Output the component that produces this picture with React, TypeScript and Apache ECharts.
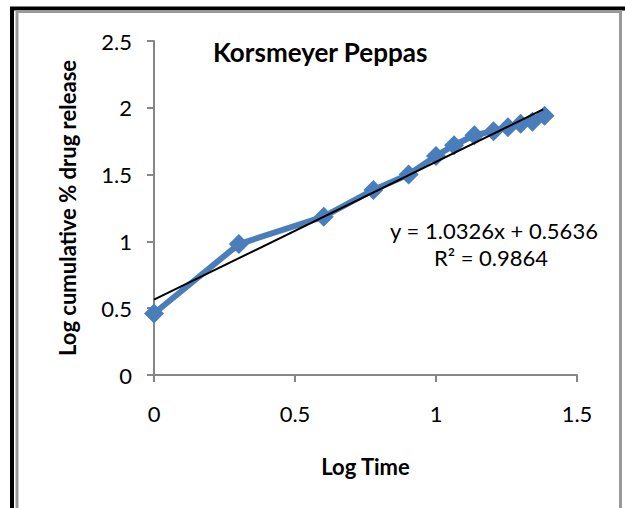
import React, { useEffect, useRef } from "react";
import * as echarts from "echarts";

const logTime = [0, 0.301, 0.602, 0.778, 0.903, 1.0, 1.064, 1.136, 1.204, 1.255, 1.3, 1.342, 1.385];
const logRelease = [0.46, 0.98, 1.185, 1.385, 1.5, 1.64, 1.72, 1.795, 1.825, 1.855, 1.88, 1.895, 1.94];
const trendSlope = 1.0326;
const trendIntercept = 0.5636;
const trendX = [0, 1.38];
const xTicks = [0, 0.5, 1, 1.5];
const yTicks = [0, 0.5, 1, 1.5, 2, 2.5];
const titleText = "Korsmeyer Peppas";
const eqLine1 = "y = 1.0326x + 0.5636";
const eqLine2 = "R² = 0.9864";

const FONT = "Lato, 'Open Sans', sans-serif";

export default function App() {
  const ref = useRef<HTMLDivElement>(null);
  useEffect(() => {
    if (!ref.current) return;
    const chart = echarts.init(ref.current, undefined, { renderer: "svg" });
    const points = logTime.map((x, i) => [x, logRelease[i]]);
    const trend = trendX.map((x) => [x, trendSlope * x + trendIntercept]);
    chart.setOption({
      animation: false,
      backgroundColor: "#fff",
      title: {
        text: titleText,
        left: 208,
        top: 34,
        textStyle: { fontFamily: FONT, fontWeight: "bold", fontSize: 26, color: "#000" },
      },
      grid: { left: 154, right: 48, top: 41, bottom: 133 },
      xAxis: {
        type: "value",
        min: 0,
        max: 1.5,
        interval: 0.5,
        name: "Log Time",
        nameLocation: "middle",
        nameGap: 80,
        nameTextStyle: { fontFamily: FONT, fontWeight: "bold", fontSize: 22, color: "#000" },
        axisLine: { show: true, lineStyle: { color: "#868686", width: 2 } },
        axisTick: { show: true, length: 7, lineStyle: { color: "#868686", width: 2 } },
        axisLabel: {
          fontFamily: FONT,
          fontSize: 22,
          color: "#000",
          margin: 27,
          formatter: (v: number) => (xTicks.includes(v) ? String(v) : ""),
        },
        splitLine: { show: false },
      },
      yAxis: {
        type: "value",
        min: 0,
        max: 2.5,
        interval: 0.5,
        name: "Log cumulative % drug release",
        nameLocation: "middle",
        nameGap: 76,
        nameRotate: 90,
        nameTextStyle: { fontFamily: FONT, fontWeight: "bold", fontSize: 22, color: "#000" },
        axisLine: { show: true, lineStyle: { color: "#868686", width: 2 } },
        axisTick: { show: true, length: 7, lineStyle: { color: "#868686", width: 2 } },
        axisLabel: {
          fontFamily: FONT,
          fontSize: 22,
          color: "#000",
          margin: 22,
          formatter: (v: number) => (yTicks.includes(v) ? String(v) : ""),
        },
        splitLine: { show: false },
      },
      series: [
        {
          type: "line",
          data: points,
          symbol: "diamond",
          symbolSize: 20,
          lineStyle: { color: "#4A7EBB", width: 6 },
          itemStyle: { color: "#4A7EBB" },
          z: 2,
        },
        {
          type: "line",
          data: trend,
          symbol: "none",
          lineStyle: { color: "#000", width: 2 },
          z: 3,
        },
      ],
      graphic: [
        {
          type: "rect",
          shape: { x: 12, y: 8.5, width: 700, height: 700 },
          style: { fill: "none", stroke: "#000", lineWidth: 4 },
          silent: true,
        },
        {
          type: "rect",
          shape: { x: 17, y: 11.5, width: 603.5, height: 700 },
          style: { fill: "none", stroke: "#999", lineWidth: 3 },
          silent: true,
        },
        {
          type: "text",
          x: 494,
          y: 230,
          style: {
            text: eqLine1,
            fontFamily: FONT,
            fontSize: 22,
            fill: "#000",
            align: "center",
            verticalAlign: "middle",
          },
        },
        {
          type: "text",
          x: 491,
          y: 257,
          style: {
            text: eqLine2,
            fontFamily: FONT,
            fontSize: 22,
            fill: "#000",
            align: "center",
            verticalAlign: "middle",
          },
        },
      ],
    });
    return () => chart.dispose();
  }, []);
  return (
    <div
      ref={ref}
      style={{ position: "absolute", left: 0, top: 0, width: 625, height: 508 }}
    />
  );
}
